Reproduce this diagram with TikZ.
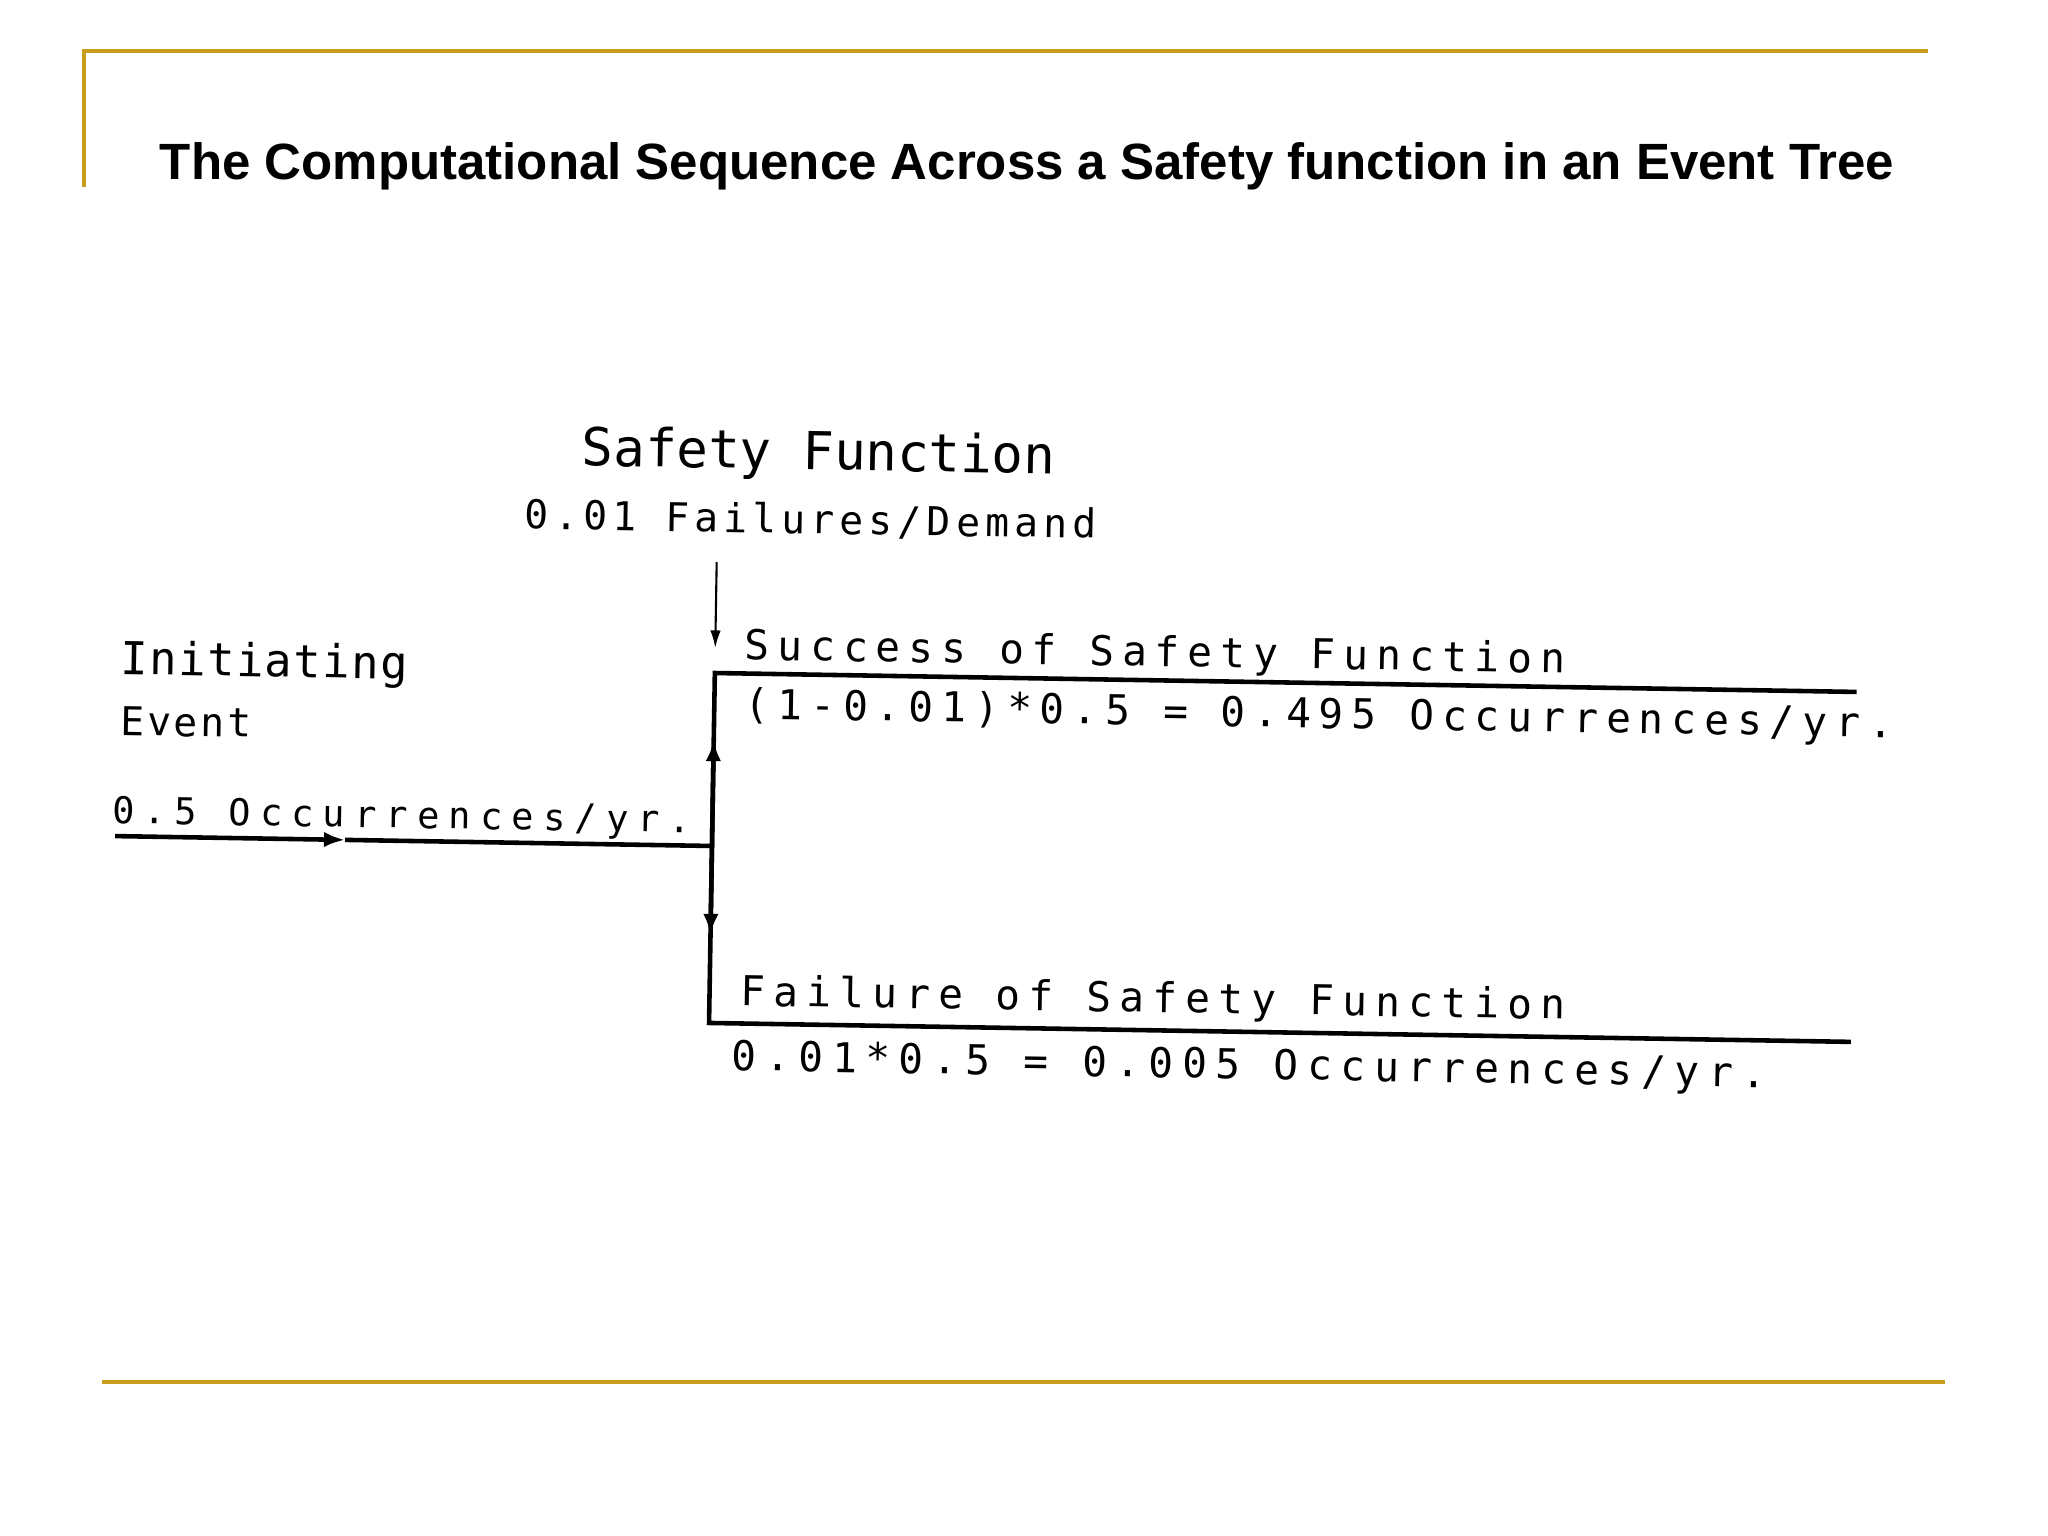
\documentclass[tikz,border=0pt]{standalone}
\usepackage{fontspec}
\setmainfont{Liberation Sans}
\newfontfamily\plotfont{DejaVu Sans Mono}
\usetikzlibrary{arrows.meta}
\definecolor{gold}{RGB}{200,158,28}

% plotter lettering: size, letter spacing
\newcommand\pf[2]{\plotfont\addfontfeatures{LetterSpace=#2}\fontsize{#1}{#1}\selectfont}

\tikzset{
  branch/.style={line width=1.3pt},
  tip/.style={-{Latex[length=6pt,width=4.4pt]}},
  plot/.style={anchor=base west, inner sep=0pt, transform shape},
}

\begin{document}
\begin{tikzpicture}[x=0.01cm, y=-0.01cm]
\useasboundingbox (0,0) rectangle (2048,1536);

% slide frame
\draw[gold, line width=1.3pt] (84,187) -- (84,51) -- (1928,51);
\draw[gold, line width=1.2pt] (102,1382) -- (1945,1382);
\node[font=\bfseries\fontsize{14.5}{17}\selectfont, anchor=base] (title) at (1027,179)
  {The Computational Sequence Across a Safety function in an Event Tree};

% event tree (scanned, slightly skewed)
\begin{scope}[rotate around={-0.95:(712,846)}]
  \coordinate (ie) at (115,846);
  \coordinate (ia) at (345,846);
  \coordinate (j) at (712,846);
  \coordinate (sd) at (712,562);
  \coordinate (sdt) at (712,648);
  \coordinate (s0) at (712,673);
  \coordinate (su) at (712,740);
  \coordinate (s1) at (1854,673);
  \coordinate (f0) at (712,1023);
  \coordinate (fd) at (712,935);
  \coordinate (f1) at (1854,1023);

  \draw[branch, tip] (ie) -- (ia);
  \draw[branch] (ia) -- (j);
  \draw[line width=0.6pt, -{Latex[length=5pt,width=3pt]}] (sd) -- (sdt);
  \draw[branch] (s1) -- (s0) -- (f0) -- (f1);
  \draw[branch, tip] (j) -- (su);
  \draw[branch, tip] (j) -- (fd);

  \node[plot, font=\pf{14.9}{0}] (safety) at (575,468) {Safety Function};
  \node[plot, font=\pf{11.3}{13}] (demand) at (519,532) {0.01 Failures/Demand};
  \node[plot, font=\pf{12.9}{3.5}] (init) at (117,684) {Initiating};
  \node[plot, font=\pf{11.3}{7}] (event) at (118,745) {Event};
  \node[plot, font=\pf{10.5}{25}] (ierate) at (111,833) {0.5 Occurrences/yr.};
  \node[plot, font=\pf{11.7}{19.5}] (succ) at (741,659) {Success of Safety Function};
  \node[plot, font=\pf{11.7}{19.5}] (succrate) at (742,718) {(1-0.01)*0.5 = 0.495 Occurrences/yr.};
  \node[plot, font=\pf{11.7}{20}] (fail) at (742,1005) {Failure of Safety Function};
  \node[plot, font=\pf{11.7}{21}] (failrate) at (735,1070) {0.01*0.5 = 0.005 Occurrences/yr.};
\end{scope}
\end{tikzpicture}
\end{document}
